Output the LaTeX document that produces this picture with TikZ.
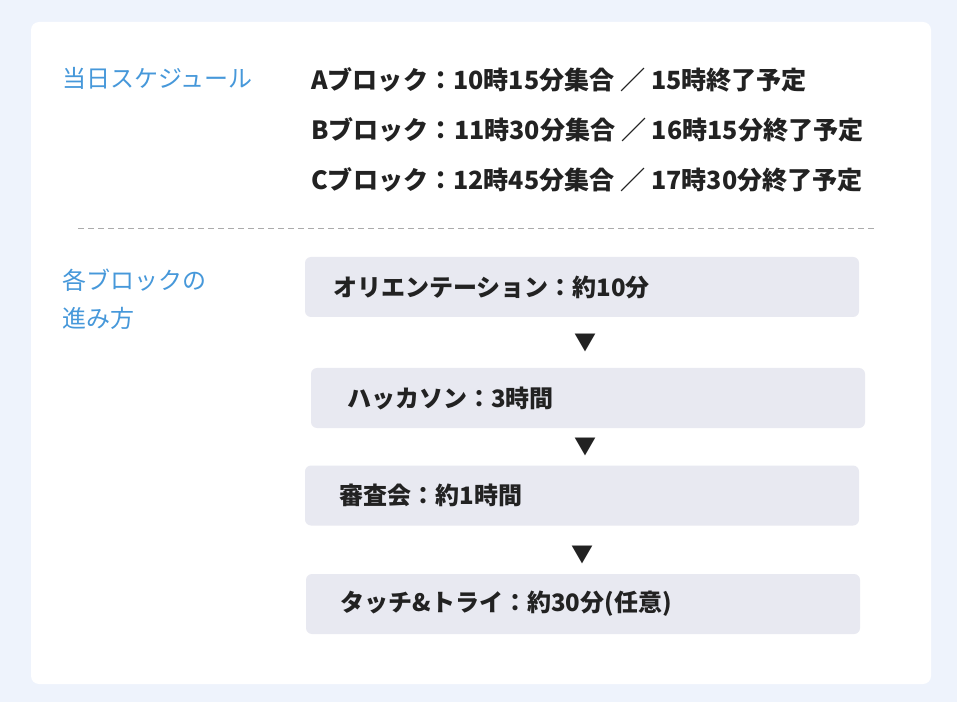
\documentclass[tikz,border=0pt]{standalone}
\usepackage{fontspec}
\newfontfamily\jpfont{Noto Sans CJK JP}
\usetikzlibrary{calc}
\definecolor{pagebg}{HTML}{EEF3FC}
\definecolor{stepfill}{HTML}{E8E9F1}
\definecolor{headblue}{HTML}{4698DA}
\definecolor{inktext}{HTML}{222222}
\begin{document}
\begin{tikzpicture}[x=0.75pt,y=-0.75pt,
  head/.style = {anchor=west, inner sep=0pt, text=headblue, font=\jpfont\fontsize{18pt}{28.5pt}\selectfont},
  sched/.style = {anchor=west, inner sep=0pt, text=inktext, font=\jpfont\bfseries\fontsize{18.8pt}{22pt}\selectfont},
  stepbox/.style = {fill=stepfill, rounded corners=4.5pt, minimum width=415.5pt, minimum height=45pt,
    text width=373.5pt, inner xsep=21pt, align=left, text=inktext, font=\jpfont\bfseries\fontsize{18pt}{22pt}\selectfont},
  tri/.style = {inner sep=0pt, text=inktext, font=\jpfont\fontsize{16.5pt}{18pt}\selectfont}]
  \useasboundingbox (0,0) rectangle (957,702);
  \fill[pagebg] (0,0) rectangle (957,702);
  \fill[white, rounded corners=6pt] (31,22) rectangle (931,684);
  % schedule
  \node[head] (h1) at (62,78) {当日スケジュール};
  \node[sched] (sa) at (311,80) {Aブロック：10時15分集合 ／ 15時終了予定};
  \node[sched] (sb) at (311,130) {Bブロック：11時30分集合 ／ 16時15分終了予定};
  \node[sched] (sc) at (311,180) {Cブロック：12時45分集合 ／ 17時30分終了予定};
  \draw[black!33, dashed, dash pattern=on 4.5pt off 3pt] (78,228) -- (876,228);
  % flow
  \node[head, align=left] (h2) at (62,299) {各ブロックの\\進み方};
  \node[stepbox] (s1) at (582,287) {オリエンテーション：約10分};
  \node[stepbox, inner xsep=27pt, text width=361.5pt] (s2) at (588,398) {ハッカソン：3時間};
  \node[stepbox, inner xsep=26pt, text width=363.5pt] (s3) at (582,495.5) {審査会：約1時間};
  \node[stepbox, inner xsep=26pt, text width=363.5pt] (s4) at (583,604) {タッチ\&トライ：約30分(任意)};
  \node[tri] (t1) at ($(s1.south)!0.5!(s2.north)$) {▼};
  \node[tri] (t2) at ($(s2.south)!0.5!(s3.north)$) {▼};
  \node[tri] (t3) at ($(s3.south)!0.6!(s4.north)$) {▼};
\end{tikzpicture}
\end{document}
